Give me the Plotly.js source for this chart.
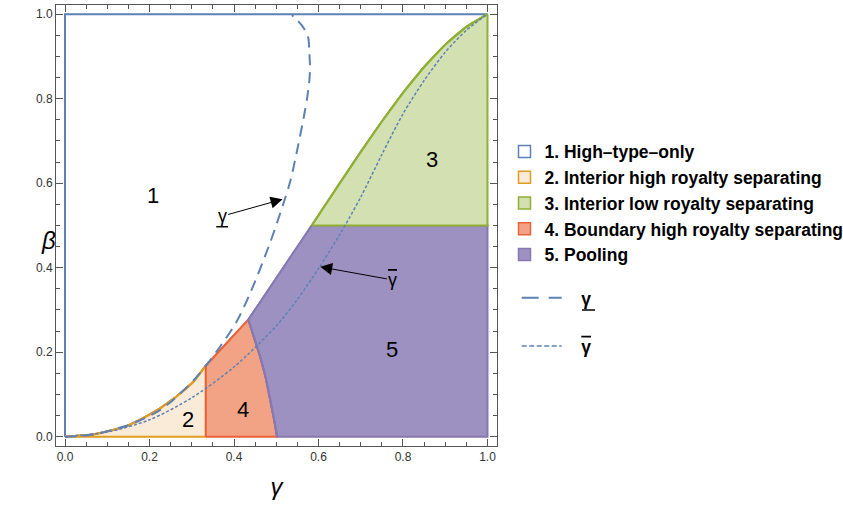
<!DOCTYPE html>
<html>
<head>
<meta charset="utf-8">
<script src="https://cdn.plot.ly/plotly-3.0.1.min.js"></script>
<style>html,body{margin:0;padding:0;background:#fff;}#chart{width:843px;height:507px;}</style>
</head>
<body>
<div id="chart"></div>
<script>
// ---- data ----
// upper boundary of region 2 (orange)
const orangeG = [0, 0.067, 0.107, 0.146, 0.185, 0.225, 0.264, 0.304, 0.3333];
const orangeB = [0, 0.005, 0.014, 0.025, 0.044, 0.067, 0.095, 0.130, 0.168];
// top edge of region 4
const redTopG = [0.3333, 0.434];
const redTopB = [0.168, 0.277];
// boundary between region 4 and 5
const poolLeftG = [0.434, 0.449, 0.462, 0.475, 0.486, 0.495, 0.502];
const poolLeftB = [0.277, 0.230, 0.189, 0.140, 0.087, 0.040, 0];
// upper-left edge of region 5
const poolTopG = [0.434, 0.584];
const poolTopB = [0.277, 0.5];
// upper boundary of region 3 (green)
const greenG = [0.584, 0.65, 0.70, 0.75, 0.80, 0.85, 0.90, 0.95, 1.0];
const greenB = [0.5, 0.600, 0.674, 0.746, 0.814, 0.875, 0.928, 0.970, 1.0];
const gammaSplit = 0.3333;
const betaSplit = 0.5;
// lower gamma curve (dashed)
const lowGammaG = [0, 0.028, 0.067, 0.107, 0.146, 0.185, 0.225, 0.256, 0.304, 0.335, 0.367, 0.406, 0.438, 0.485, 0.517, 0.533, 0.548, 0.566, 0.573, 0.578, 0.580, 0.578, 0.576, 0.568, 0.560, 0.548, 0.537];
const lowGammaB = [0, 0.001, 0.005, 0.015, 0.026, 0.042, 0.063, 0.087, 0.133, 0.170, 0.213, 0.272, 0.339, 0.458, 0.552, 0.604, 0.671, 0.761, 0.801, 0.840, 0.870, 0.915, 0.943, 0.962, 0.974, 0.988, 0.998];
// upper gamma curve (dotted)
const highGammaG = [0, 0.1, 0.2, 0.3, 0.4, 0.5, 0.55, 0.6, 0.65, 0.7, 0.75, 0.8, 0.85, 0.9, 0.95, 1.0];
const highGammaB = [0, 0.011, 0.040, 0.092, 0.165, 0.262, 0.325, 0.398, 0.478, 0.567, 0.668, 0.764, 0.843, 0.910, 0.962, 1.0];

const regionNames = ['1. High\u2013type\u2013only', '2. Interior high royalty separating', '3. Interior low royalty separating', '4. Boundary high royalty separating', '5. Pooling'];
const lowGammaName = '\u00a0\u00a0\u00a0\u03b3';
const highGammaName = '\u00a0\u00a0\u00a0<span style="text-decoration:overline">\u03b3</span>';
const regionLabels = ['1', '2', '3', '4', '5'];
const regionLabelG = [0.208, 0.290, 0.869, 0.421, 0.773];
const regionLabelB = [0.570, 0.040, 0.655, 0.065, 0.207];
const tickVals = [0, 0.2, 0.4, 0.6, 0.8, 1.0];
const tickText = ['0.0', '0.2', '0.4', '0.6', '0.8', '1.0'];

// ---- styles ----
const FONT = 'Liberation Sans, Arial, sans-serif';
const lineCol = ['#5E81B5', '#E19C24', '#8FB032', '#EB6235', '#8778B3'];
const fillCol = ['#FFFFFF', '#F9EBD7', '#D3E0B1', '#F2A386', '#9D91C1'];
const rev = a => a.slice().reverse();

// polygons built from the boundary arrays
const r1x = [0, 0].concat(rev(greenG), rev(poolTopG), rev(redTopG), rev(orangeG));
const r1y = [0, 1].concat(rev(greenB), rev(poolTopB), rev(redTopB), rev(orangeB));
const r2x = orangeG.concat([gammaSplit, 0]);
const r2y = orangeB.concat([0, 0]);
const r4x = [gammaSplit].concat(redTopG, poolLeftG.slice(1), [gammaSplit]);
const r4y = [0].concat(redTopB, poolLeftB.slice(1), [0]);
const r5x = poolLeftG.concat([1, 1], rev(poolTopG));
const r5y = poolLeftB.concat([0, betaSplit], rev(poolTopB));
const r3x = greenG.concat([1, greenG[0]]);
const r3y = greenB.concat([betaSplit, greenB[0]]);

function region(x, y, i, w) {
  return {x: x, y: y, type: 'scatter', mode: 'lines', fill: 'toself', fillcolor: fillCol[i],
    line: {color: lineCol[i], width: w}, showlegend: false, hoverinfo: 'skip'};
}
function edge(x, y, i, w) {
  return {x: x, y: y, type: 'scatter', mode: 'lines', line: {color: lineCol[i], width: w, shape: 'spline', smoothing: 0.8},
    showlegend: false, hoverinfo: 'skip'};
}
const traces = [
  region(r1x, r1y, 0, 2),
  region(r2x, r2y, 1, 2),
  edge(orangeG, orangeB, 1, 2),
  region(r4x, r4y, 3, 2),
  region(r5x, r5y, 4, 2),
  edge(poolLeftG, poolLeftB, 4, 2),
  region(r3x, r3y, 2, 2),
  edge(greenG, greenB, 2, 2),
  {x: lowGammaG, y: lowGammaB, type: 'scatter', mode: 'lines',
   line: {color: '#5E81B5', width: 2, dash: '11px,7px', shape: 'spline', smoothing: 0.8},
   name: lowGammaName, showlegend: false},
  {x: highGammaG, y: highGammaB, type: 'scatter', mode: 'lines',
   line: {color: '#5E81B5', width: 1.5, dash: '3px,2px', shape: 'spline', smoothing: 0.8},
   name: highGammaName, showlegend: false},
  // legend samples for the two curves
  {x: [null], y: [null], type: 'scatter', mode: 'lines', line: {color: '#5E81B5', width: 2, dash: '17px,10px'},
   name: lowGammaName, legend: 'legend2', showlegend: true},
  {x: [null], y: [null], type: 'scatter', mode: 'lines', line: {color: '#5E81B5', width: 1.5, dash: '5px,2.5px'},
   name: highGammaName, legend: 'legend3', showlegend: true}
];
// legend entries for the regions
for (let i = 0; i < 5; i++) {
  traces.push({x: [null], y: [null], type: 'scatter', mode: 'markers', name: regionNames[i],
    marker: {symbol: 'square', size: 12, color: fillCol[i], line: {color: lineCol[i], width: 1.5}}, showlegend: true});
}

const annotations = regionLabels.map((t, i) => ({x: regionLabelG[i], y: regionLabelB[i], text: t, showarrow: false,
  font: {family: FONT, size: 22, color: '#000'}}));
annotations.push({x: 0.515, y: 0.562, ax: 0.372, ay: 0.522, axref: 'x', ayref: 'y', xref: 'x', yref: 'y',
  text: '\u03b3', showarrow: true, arrowhead: 2, arrowsize: 2.4, arrowwidth: 1, arrowcolor: '#000',
  font: {family: FONT, size: 18, color: '#000'}});
annotations.push({x: 0.604, y: 0.402, ax: 0.776, ay: 0.371, axref: 'x', ayref: 'y', xref: 'x', yref: 'y',
  text: '<span style="text-decoration:overline">\u03b3</span>', showarrow: true, arrowhead: 2, arrowsize: 2.4, arrowwidth: 1, arrowcolor: '#000',
  font: {family: FONT, size: 18, color: '#000'}});
annotations.push({xref: 'paper', yref: 'paper', x: -0.038, y: 0.465, text: '<i>\u03b2</i>', showarrow: false,
  font: {family: FONT, size: 24, color: '#000'}});

// underline marks for the lower-gamma symbol (label and legend)
const shapes = [
  {type: 'line', xref: 'x', yref: 'y', x0: 0.358, x1: 0.386, y0: 0.497, y1: 0.497, line: {color: '#000', width: 1.5}},
  {type: 'line', xref: 'paper', yref: 'paper', x0: 1.1927, x1: 1.2222, y0: 0.3084, y1: 0.3084, line: {color: '#000', width: 1.5}}
];

const axisCommon = {
  tickvals: tickVals, ticktext: tickText, ticks: 'inside', ticklen: 7, tickwidth: 1, tickcolor: '#555',
  minor: {dtick: 0.05, tick0: 0, ticks: 'inside', ticklen: 4, tickcolor: '#555', showgrid: false},
  showline: true, linecolor: '#555', linewidth: 1, mirror: 'ticks', showgrid: false, zeroline: false,
  tickfont: {family: FONT, size: 12, color: '#333'}, automargin: false
};
const legendFont = {family: FONT, size: 17.5, color: '#000', weight: 'bold'};
const layout = {
  width: 843, height: 507,
  margin: {l: 56, r: 346, t: 5, b: 61, autoexpand: false},
  paper_bgcolor: '#fff', plot_bgcolor: '#fff',
  xaxis: Object.assign({}, axisCommon, {range: [-0.0213, 1.0225],
    title: {text: '<i>\u03b3</i>', font: {family: FONT, size: 24, color: '#000'}, standoff: 14}}),
  yaxis: Object.assign({}, axisCommon, {range: [-0.022, 1.0218]}),
  showlegend: true,
  legend: {x: 1.017, xanchor: 'left', y: 0.7085, yanchor: 'top', font: legendFont, bgcolor: 'rgba(0,0,0,0)', borderwidth: 0, tracegroupgap: 0},
  legend2: {x: 1.0447, xanchor: 'left', y: 0.3765, yanchor: 'top', font: legendFont, bgcolor: 'rgba(0,0,0,0)', itemwidth: 40},
  legend3: {x: 1.0447, xanchor: 'left', y: 0.2675, yanchor: 'top', font: legendFont, bgcolor: 'rgba(0,0,0,0)', itemwidth: 40},
  annotations: annotations,
  shapes: shapes
};
Plotly.newPlot('chart', traces, layout, {displayModeBar: false, staticPlot: true});
</script>
</body>
</html>
